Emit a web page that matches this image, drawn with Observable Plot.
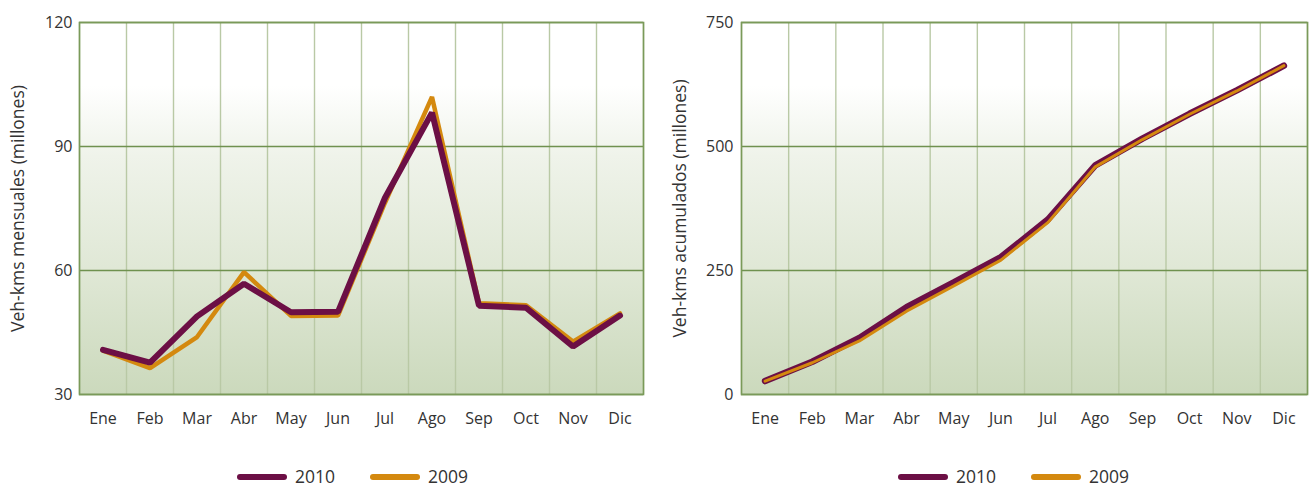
<!DOCTYPE html>
<html>
<head>
<meta charset="utf-8">
<script src="https://cdn.jsdelivr.net/npm/d3@7"></script>
<script src="https://cdn.jsdelivr.net/npm/@observablehq/plot@0.6"></script>
<style>
  body { margin: 0; background: #fff; font-family: "Open Sans", sans-serif; }
  #wrap { position: relative; width: 1309px; height: 487px; overflow: hidden; }
  #charts { display: flex; }
  #charts svg { display: block; }
  .legend { position: absolute; top: 465px; height: 23px; display: flex; align-items: center; font-size: 17.5px; color: #333; line-height: 23px; }
  .sw { width: 50px; height: 6px; border-radius: 3px; margin-right: 8px; }
  .lab { margin-right: 35px; }
</style>
</head>
<body>
<div id="wrap">
  <div id="charts"></div>
</div>
<script>
const months = ["Ene","Feb","Mar","Abr","May","Jun","Jul","Ago","Sep","Oct","Nov","Dic"];
const seriesNames = ["2010", "2009"];
const seriesColors = ["#6c0f45", "#d4890f"];

// Veh-kms mensuales (millones)
const monthly2010 = [40.8, 37.7, 48.9, 56.8, 49.9, 50.0, 77.6, 98.2, 51.5, 51.0, 41.6, 49.1];
const monthly2009 = [40.6, 36.4, 43.9, 59.6, 49.0, 49.1, 76.4, 102.0, 52.1, 51.6, 42.8, 49.6];

// Veh-kms acumulados (millones)
const cumulative2010 = [27, 66, 114, 176, 226, 277, 353, 462, 516, 566, 613, 663];
const cumulative2009 = [27, 64, 108, 168, 219, 271, 347, 459, 514, 565, 612, 663];

const leftTicks = [30, 60, 90, 120];
const rightTicks = [0, 250, 500, 750];
const leftTitle = "Veh-kms mensuales (millones)";
const rightTitle = "Veh-kms acumulados (millones)";

function toRows(values) { return values.map((v, i) => ({i, v})); }

function panel(o) {
  const idx = months.map((_, i) => i);
  const bounds = [-0.5, ...months.map((_, i) => i + 0.5)];
  const line2010 = Plot.line(toRows(o.s2010), {x: "i", y: "v", stroke: seriesColors[0], strokeWidth: o.w2010, strokeLinecap: "round", strokeLinejoin: "miter"});
  const line2009 = Plot.line(toRows(o.s2009), {x: "i", y: "v", stroke: seriesColors[1], strokeWidth: o.w2009, strokeLinecap: "round", strokeLinejoin: "miter"});
  const svg = Plot.plot({
    width: o.width,
    height: 440,
    marginTop: 22,
    marginBottom: 46,
    marginLeft: o.marginLeft,
    marginRight: o.marginRight,
    style: {fontFamily: "'Open Sans', sans-serif", fontSize: "16px", color: "#333", background: "transparent", overflow: "visible"},
    x: {domain: [-0.5, 11.5], axis: null},
    y: {domain: [o.ticks[0], o.ticks[o.ticks.length - 1]], axis: null},
    marks: [
      Plot.frame({fill: "#ffffff"}),
      Plot.ruleX(bounds, {stroke: "#b9c9a5", strokeWidth: 1.4}),
      Plot.ruleY(o.ticks, {stroke: "#6f914f", strokeWidth: 1.4}),
      Plot.frame({stroke: "#7a9a59", strokeWidth: 1.6}),
      Plot.axisX(idx, {tickSize: 0, tickPadding: 18, tickFormat: i => months[i], fontSize: 16, label: null, fill: "#333"}),
      Plot.axisY(o.ticks, {tickSize: 0, tickPadding: o.tickPad, fontSize: 16, label: null, fill: "#333"}),
      ...(o.order2010Top ? [line2009, line2010] : [line2010, line2009]),
      Plot.text([o.title], {frameAnchor: "left", dx: o.titleDx, rotate: -90, textAnchor: "middle", lineAnchor: "middle", fontSize: 17.5, fill: "#333"})
    ]
  });
  // gradient background
  const s = d3.select(svg);
  const defs = s.insert("defs", ":first-child");
  const g = defs.append("linearGradient").attr("id", o.gradId).attr("x1", 0).attr("y1", 0).attr("x2", 0).attr("y2", 1);
  [[0, "#ffffff"], [0.17, "#ffffff"], [0.36, "#eff3ea"], [0.66, "#e0e8d6"], [1, "#cbd9bc"]].forEach(([off, c]) => {
    g.append("stop").attr("offset", off).attr("stop-color", c);
  });
  const firstFrame = s.select('g[aria-label="frame"] rect');
  if (!firstFrame.empty()) firstFrame.attr("fill", `url(#${o.gradId})`);
  else s.select('rect[aria-label="frame"]').attr("fill", `url(#${o.gradId})`);
  return svg;
}

const charts = document.getElementById("charts");
charts.append(panel({
  width: 654, marginLeft: 79, marginRight: 11,
  ticks: leftTicks, s2010: monthly2010, s2009: monthly2009,
  w2010: 6, w2009: 4.5, order2010Top: true,
  title: leftTitle, titleDx: -61, tickPad: 7, gradId: "bgLeft"
}));
charts.append(panel({
  width: 655, marginLeft: 87, marginRight: 2,
  ticks: rightTicks, s2010: cumulative2010, s2009: cumulative2009,
  w2010: 6.5, w2009: 3, order2010Top: false,
  title: rightTitle, titleDx: -61, tickPad: 8, gradId: "bgRight"
}));

// legends
const wrap = document.getElementById("wrap");
[237, 898].forEach(left => {
  const lg = document.createElement("div");
  lg.className = "legend";
  lg.style.left = left + "px";
  seriesNames.forEach((name, k) => {
    const sw = document.createElement("div");
    sw.className = "sw";
    sw.style.background = seriesColors[k];
    const lab = document.createElement("span");
    lab.className = "lab";
    lab.textContent = name;
    lg.append(sw, lab);
  });
  wrap.append(lg);
});
</script>
</body>
</html>
